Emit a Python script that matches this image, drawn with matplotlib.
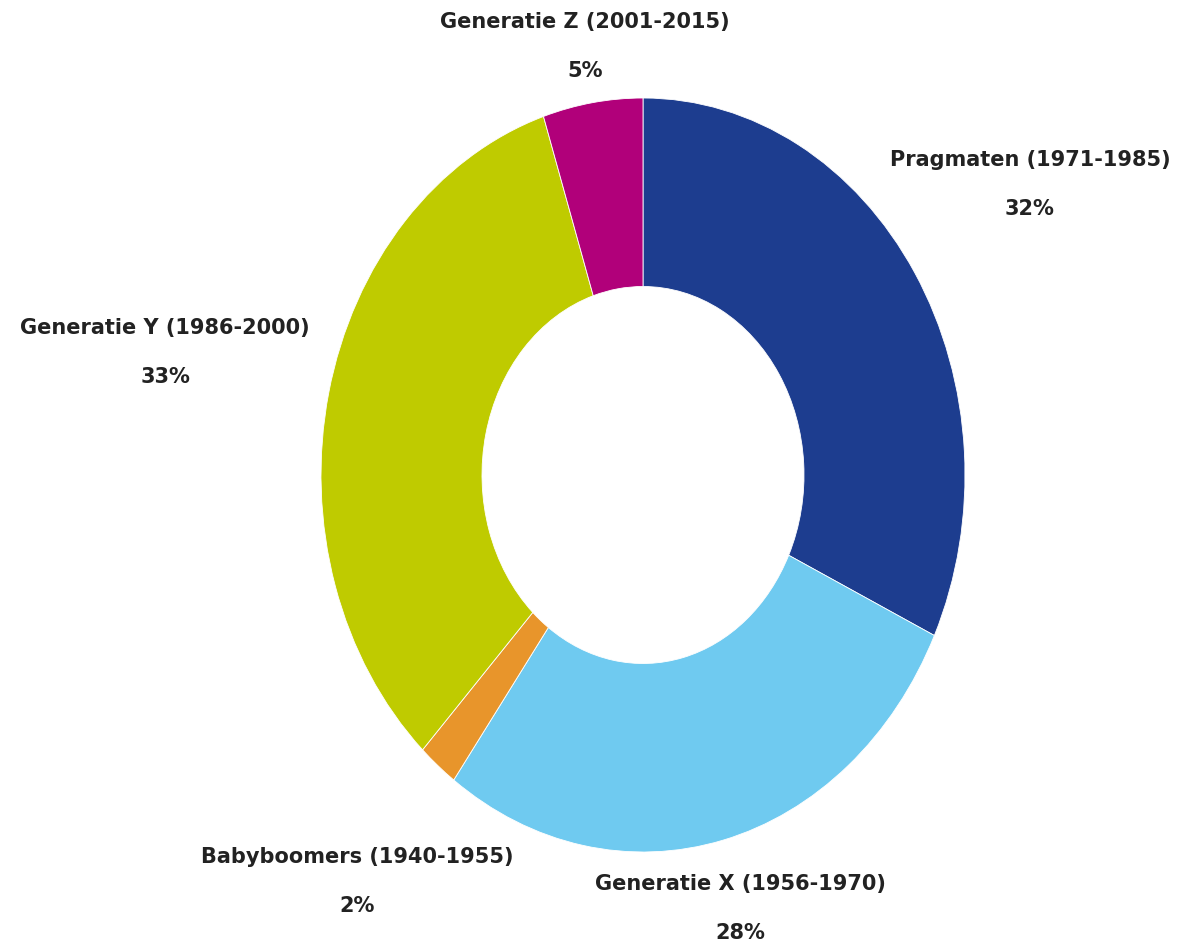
import matplotlib.pyplot as plt

# data, clockwise from the top
labels = ['Pragmaten (1971-1985)', 'Generatie X (1956-1970)', 'Babyboomers (1940-1955)',
          'Generatie Y (1986-2000)', 'Generatie Z (2001-2015)']
shares = [32, 28, 2, 33, 5]
colors = ['#1d3d8f', '#6fcaf0', '#e8952b', '#bfcb00', '#b1007a']

# label centres in pixels (x from left, y from top)
label_pos = [(1030, 160), (740, 884), (357, 857), (165, 328), (585, 22)]

W, H = 1186, 944
fig = plt.figure(figsize=(W / 100, H / 100), dpi=100)
ax = fig.add_axes([0, 0, 1, 1])

ax.pie(shares, colors=colors, startangle=90, counterclock=False,
       wedgeprops=dict(width=0.5, edgecolor='white', linewidth=0.6))

# stretch the ring into the ellipse of the original
cx, cy, rx, ry = 643, 475, 322, 377
ax.set_aspect('auto')
ax.set_xlim(-cx / rx, (W - cx) / rx)
ax.set_ylim(-(H - cy) / ry, cy / ry)
ax.axis('off')

for lab, val, (px, py) in zip(labels, shares, label_pos):
    fig.text(px / W, 1 - py / H, lab, ha='center', va='center',
             fontsize=15, fontweight='bold', color='#222222')
    fig.text(px / W, 1 - (py + 49) / H, f'{val}%', ha='center', va='center',
             fontsize=15, fontweight='bold', color='#222222')

plt.savefig('out.png', dpi=100)
